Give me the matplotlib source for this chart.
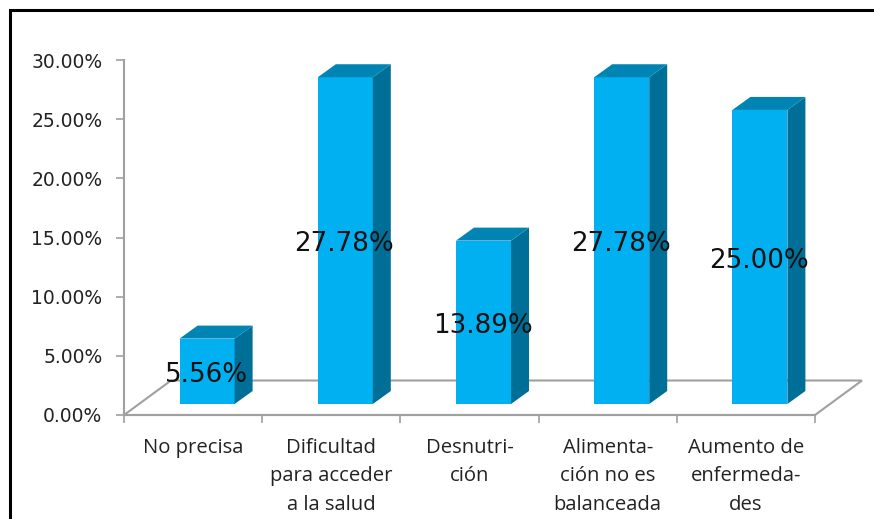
import matplotlib
matplotlib.use("Agg")
import matplotlib.pyplot as plt
from matplotlib.lines import Line2D
from matplotlib.patches import Polygon
from matplotlib.ticker import FixedLocator

categories = ["No precisa", "Dificultad\npara acceder\na la salud", "Desnutri-\nción",
              "Alimenta-\nción no es\nbalanceada", "Aumento de\nenfermeda-\ndes"]
values = [5.56, 27.78, 13.89, 27.78, 25.00]
labels = ["5.56%", "27.78%", "13.89%", "27.78%", "25.00%"]
yticks = [0, 5, 10, 15, 20, 25, 30]
yticklabels = ["0.00%", "5.00%", "10.00%", "15.00%", "20.00%", "25.00%", "30.00%"]

W, H = 874, 519
fig = plt.figure(figsize=(W / 100, H / 100), dpi=100, facecolor="white")
L, R, T, B = 124, 815, 60, 415
ax = fig.add_axes([L / W, 1 - B / H, (R - L) / W, (B - T) / H])
ax.set_xlim(0, len(values))
ax.set_ylim(0, 30)
ax.patch.set_alpha(0)

ux = (R - L) / len(values)      # px per category
uy = (B - T) / 30               # px per y unit
base = 11 / uy
shift = 14 / ux
bw = 55 / ux
dx, dy = 18 / ux, 13 / uy
depth_scale = 0.994             # the 3D front plane is slightly foreshortened
grey = "#a0a0a0"

# floor
fx, fy = 47 / ux, 34.5 / uy
ax.add_patch(Polygon([(0, 0), (fx, fy), (5 + fx, fy), (5, 0)], closed=True, fill=False,
                     edgecolor=grey, lw=1.5, clip_on=False, zorder=1))

for i, v in enumerate(values):
    h = v * depth_scale
    x0 = i + 0.5 + shift - bw / 2
    x1 = x0 + bw
    y0, y1 = base, base + h
    ax.bar(x0, h, width=bw, bottom=base, align="edge", color="#00B0F0", zorder=3)
    ax.add_patch(Polygon([(x1, y0), (x1 + dx, y0 + dy), (x1 + dx, y1 + dy), (x1, y1)],
                         closed=True, facecolor="#006F98", edgecolor="none", clip_on=False, zorder=3))
    ax.add_patch(Polygon([(x0, y1), (x0 + dx, y1 + dy), (x1 + dx, y1 + dy), (x1, y1)],
                         closed=True, facecolor="#0084B4", edgecolor="none", clip_on=False, zorder=3))
    ax.text(i + 0.5 + shift - 1 / ux, base + h / 2 - 0.3, labels[i], ha="center", va="center",
            fontsize=18.8, family="DejaVu Sans", color="#111111", zorder=5, clip_on=False)

for s in ("top", "right"):
    ax.spines[s].set_visible(False)
for s in ("left", "bottom"):
    ax.spines[s].set_color(grey)
    ax.spines[s].set_linewidth(1.5)
    ax.spines[s].set_zorder(1)

ax.set_yticks(yticks)
ax.set_yticklabels(yticklabels, family="DejaVu Sans", fontsize=13.5, color="#222222")
ax.set_xticks(range(len(values) + 1))
ax.set_xticklabels([])
ax.xaxis.set_minor_locator(FixedLocator([i + 0.5 for i in range(len(values))]))
ax.set_xticklabels(categories, minor=True, family="Open Sans", fontsize=14.6, color="#222222",
                   linespacing=1.56, va="top")
ax.tick_params(axis="y", which="major", length=5.5, width=1.2, color=grey, pad=10)
ax.tick_params(axis="x", which="major", length=5.5, width=1.2, color=grey)
ax.tick_params(axis="x", which="minor", length=0, pad=16.5)

# outer frame: only the top and left edges fall inside the picture
fig.add_artist(Line2D([10 / W, 10 / W, 1], [0, 1 - 10 / H, 1 - 10 / H],
                      transform=fig.transFigure, color="black", lw=2.2,
                      solid_joinstyle="miter"))

fig.savefig("out.png", dpi=100)
